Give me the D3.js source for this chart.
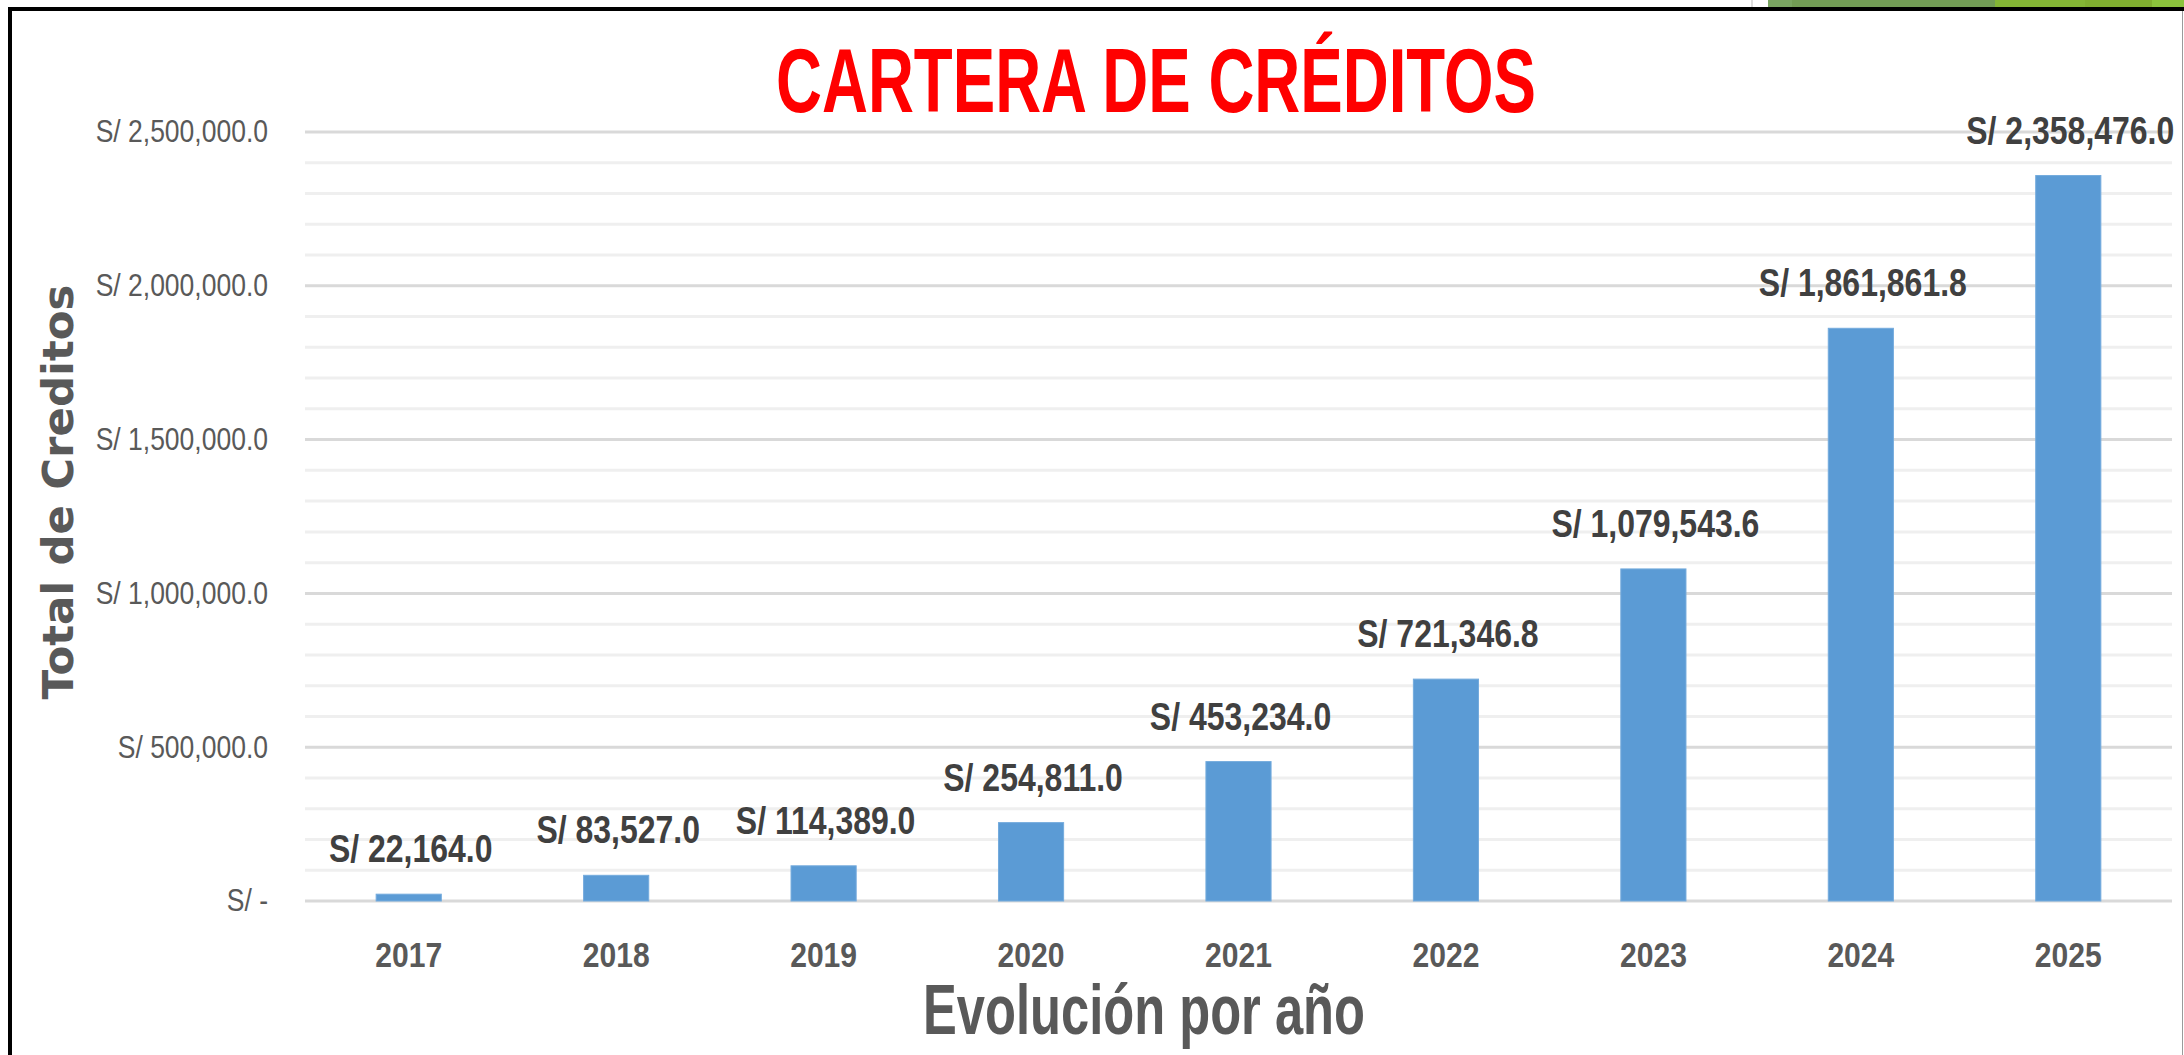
<!DOCTYPE html>
<html>
<head>
<meta charset="utf-8">
<script src="https://cdn.jsdelivr.net/npm/d3@7"></script>
<style>
  body { margin: 0; background: #fff; }
  text { font-family: "Liberation Sans", Arial, sans-serif; }
</style>
</head>
<body>
<div id="chart"></div>
<script>

// data
var years = ["2017", "2018", "2019", "2020", "2021", "2022", "2023", "2024", "2025"];
var totals = [22164.0, 83527.0, 114389.0, 254811.0, 453234.0, 721346.8, 1079543.6, 1861861.8, 2358476.0];
var yTicks = [0, 500000, 1000000, 1500000, 2000000, 2500000];
var yTickLabels = ["S/ -", "S/ 500,000.0", "S/ 1,000,000.0", "S/ 1,500,000.0", "S/ 2,000,000.0", "S/ 2,500,000.0"];
var minorTicks = d3.range(0, 2500001, 100000);

// setup dimensions
var W = 2184, H = 1055;
var plot = {left: 305, right: 2172, top: 132, bottom: 901};

var svg = d3.select("#chart").append("svg")
  .attr("width", W)
  .attr("height", H);

// squeeze text horizontally (reference is a stretched screenshot)
function squeeze(sel, k) {
  sel.each(function() {
    var t = d3.select(this),
        tx = +t.attr("x") || 0,
        ty = +t.attr("y") || 0;
    t.attr("x", 0).attr("y", 0)
      .attr("transform", "translate(" + tx + "," + ty + ") scale(" + k + ",1)");
  });
}
function fitWidth(sel, target) {
  sel.attr("textLength", target).attr("lengthAdjust", "spacingAndGlyphs");
}

// scales
var x = d3.scaleBand()
  .domain(years)
  .range([plot.left, plot.right])
  .paddingInner(0.686)
  .paddingOuter(0.343);
var y = d3.scaleLinear()
  .domain([0, 2500000])
  .range([plot.bottom, plot.top]);

// frame and decoration
svg.append("rect").attr("x", 0).attr("y", 0).attr("width", W).attr("height", H).attr("fill", "#fff");
var deco = [
  {x0: 1768, x1: 1792, c: "#7aa562"},
  {x0: 1792, x1: 1995, c: "#729c55"},
  {x0: 1995, x1: 2085, c: "#84b535"},
  {x0: 2085, x1: 2152, c: "#80ae30"},
  {x0: 2152, x1: 2184, c: "#8bc23c"}
];
svg.selectAll("rect.deco").data(deco).enter().append("rect")
  .attr("class", "deco")
  .attr("x", function(d) { return d.x0; })
  .attr("y", 0)
  .attr("width", function(d) { return d.x1 - d.x0; })
  .attr("height", 8)
  .attr("fill", function(d) { return d.c; });
svg.append("line").attr("x1", 1752).attr("x2", 1752).attr("y1", 0).attr("y2", 7)
  .attr("stroke", "#bbb").attr("stroke-width", 1);
svg.append("line").attr("x1", 8).attr("x2", W).attr("y1", 9).attr("y2", 9)
  .attr("stroke", "#000").attr("stroke-width", 4);
svg.append("line").attr("x1", 10).attr("x2", 10).attr("y1", 7).attr("y2", H)
  .attr("stroke", "#000").attr("stroke-width", 4);
svg.append("line").attr("x1", 2182.5).attr("x2", 2182.5).attr("y1", 11).attr("y2", H)
  .attr("stroke", "#9a9a9a").attr("stroke-width", 1);

// gridlines
svg.append("g").selectAll("line")
  .data(minorTicks.filter(function(d) { return d % 500000 !== 0; }))
  .enter().append("line")
  .attr("x1", plot.left).attr("x2", plot.right)
  .attr("y1", function(d) { return y(d); })
  .attr("y2", function(d) { return y(d); })
  .attr("stroke", "#efefef")
  .attr("stroke-width", 3);
svg.append("g").selectAll("line")
  .data(yTicks)
  .enter().append("line")
  .attr("x1", plot.left).attr("x2", plot.right)
  .attr("y1", function(d) { return y(d); })
  .attr("y2", function(d) { return y(d); })
  .attr("stroke", "#d9d9d9")
  .attr("stroke-width", 3);

// y axis
var yAxis = svg.append("g")
  .attr("transform", "translate(" + plot.left + ",0)")
  .call(d3.axisLeft(y)
    .tickValues(yTicks)
    .tickSize(0)
    .tickPadding(37)
    .tickFormat(function(d, i) { return yTickLabels[i]; }));
yAxis.select(".domain").remove();
yAxis.selectAll("text")
  .attr("fill", "#595959")
  .style("font-size", "31px")
  .style("font-family", "'Liberation Sans', Arial, sans-serif");
squeeze(yAxis.selectAll("text"), 0.855);

// bars
svg.append("g").selectAll("rect")
  .data(totals)
  .enter().append("rect")
  .attr("x", function(d, i) { return x(years[i]); })
  .attr("y", function(d) { return y(d); })
  .attr("width", x.bandwidth())
  .attr("height", function(d) { return y(0) - y(d); })
  .attr("fill", "#5b9bd5")
  .attr("stroke", "#74abdd")
  .attr("stroke-width", 1);

// value labels
var fmt = d3.format(",.1f");
var vals = svg.append("g").selectAll("text")
  .data(totals)
  .enter().append("text")
  .attr("x", function(d, i) { return x(years[i]) + x.bandwidth() / 2 + 2; })
  .attr("y", function(d) { return y(d) - 32; })
  .attr("text-anchor", "middle")
  .attr("fill", "#404040")
  .style("font-size", "39px")
  .style("font-weight", "bold")
  .text(function(d) { return "S/ " + fmt(d); });
squeeze(vals, 0.82);

// x axis labels
var xAxis = svg.append("g")
  .attr("transform", "translate(0," + plot.bottom + ")")
  .call(d3.axisBottom(x).tickSize(0).tickPadding(0));
xAxis.select(".domain").remove();
xAxis.selectAll("text")
  .attr("dy", null)
  .attr("y", 66)
  .attr("fill", "#595959")
  .style("font-size", "35px")
  .style("font-weight", "bold")
  .style("font-family", "'Liberation Sans', Arial, sans-serif");
squeeze(xAxis.selectAll("text"), 0.86);

// title
svg.append("text")
  .attr("x", 1156)
  .attr("y", 112)
  .attr("text-anchor", "middle")
  .attr("fill", "#ff0000")
  .style("font-size", "91px")
  .style("font-weight", "bold")
  .text("CARTERA DE CRÉDITOS")
  .call(fitWidth, 760);

// axis titles
svg.append("text")
  .attr("x", 1144)
  .attr("y", 1034)
  .attr("text-anchor", "middle")
  .attr("fill", "#595959")
  .style("font-size", "70px")
  .style("font-weight", "bold")
  .text("Evolución por año")
  .call(fitWidth, 442);

svg.append("text")
  .attr("transform", "translate(73,492) rotate(-90)")
  .attr("text-anchor", "middle")
  .attr("fill", "#595959")
  .style("font-family", "'DejaVu Sans', Verdana, sans-serif")
  .style("font-size", "43px")
  .style("font-weight", "bold")
  .text("Total de Creditos")
  .call(fitWidth, 415);

</script>
</body>
</html>
